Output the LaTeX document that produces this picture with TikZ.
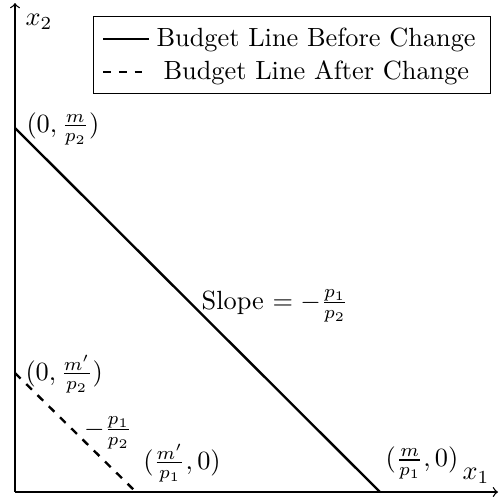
\documentclass[tikz,border=0pt]{standalone}
\begin{document}
\begin{tikzpicture}[x=0.38pt,y=-0.38pt,
  axis/.style={->,line width=0.5pt},
  budget/.style={line width=0.9pt},
  lbl/.style={inner sep=0pt},
  legendbox/.style={draw,line width=0.5pt}]
\useasboundingbox (0,0) rectangle (499,496);
% axes
\coordinate (O) at (15,492);
\coordinate (xend) at (498,492);
\coordinate (yend) at (15,3);
\draw[axis] (O) -- (xend);
\draw[axis] (O) -- (yend);
\node[lbl] (x1) at (476,476) {$x_1$};
\node[lbl] (x2) at (39,22) {$x_2$};
% budget lines
\coordinate (A) at (15,128);
\coordinate (B) at (380,492);
\coordinate (C) at (15,373);
\coordinate (D) at (136,492);
\draw[budget] (A) -- (B);
\draw[budget,dashed] (C) -- (D);
% labels
\node[lbl,anchor=west] (la) at (26,129) {$(0,\frac{m}{p_2})$};
\node[lbl] (slope) at (275,306) {Slope $= -\frac{p_1}{p_2}$};
\node[lbl,anchor=west] (lc) at (25,374) {$(0,\frac{m'}{p_2})$};
\node[lbl] (sl2) at (108,433) {$-\frac{p_1}{p_2}$};
\node[lbl] (ld) at (182,463) {$(\frac{m'}{p_1},0)$};
\node[lbl] (lb) at (422,463) {$(\frac{m}{p_1},0)$};
% legend
\node[legendbox,minimum width=397*0.38pt,minimum height=77*0.38pt,anchor=north west] (leg) at (93,16) {};
\coordinate (s1) at (103,39);
\coordinate (s2) at (149,39);
\coordinate (d1) at (103,72);
\coordinate (d2) at (143,72);
\draw[budget] (s1) -- (s2);
\draw[budget,dashed] (d1) -- (d2);
\node[lbl,anchor=west] (t1) at (156,40) {Budget Line Before Change};
\node[lbl,anchor=west] (t2) at (163,73) {Budget Line After Change};
\end{tikzpicture}
\end{document}
